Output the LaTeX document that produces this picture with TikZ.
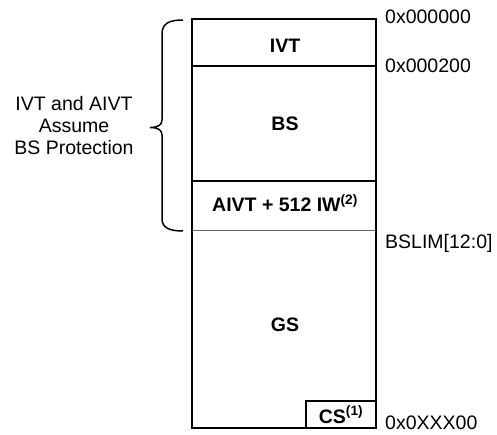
\documentclass[tikz,border=0pt]{standalone}
\usepackage{fontspec}
\setmainfont{Liberation Sans}
\begin{document}
\begin{tikzpicture}[x=1pt,y=-1pt,
  lbl/.style={font=\fontsize{19.5}{22.3}\selectfont, inner sep=0pt},
  ttl/.style={font=\fontsize{19.5}{22.3}\selectfont\bfseries, inner sep=0pt, anchor=base},
  addr/.style={lbl, anchor=base west},
  frame/.style={line width=2pt, black},
  thin/.style={line width=1pt, black!60},
  brace/.style={line width=1.5pt, black}]
\useasboundingbox (0,0) rectangle (497,435);
% memory frame
\coordinate (tl) at (192,19);
\coordinate (tr) at (376,19);
\coordinate (bl) at (192,428);
\coordinate (br) at (376,428);
\coordinate (l1) at (192,66);
\coordinate (r1) at (376,66);
\coordinate (l2) at (192,181);
\coordinate (r2) at (376,181);
\coordinate (l3) at (192,231);
\coordinate (r3) at (376,231);
\coordinate (cstl) at (306,401);
\coordinate (csbl) at (306,428);
\coordinate (cstr) at (376,401);
\draw[thin] (l3) -- (r3);
\draw[frame] (tl) -- (tr) -- (br) -- (bl) -- cycle;
\draw[frame] (l1) -- (r1);
\draw[frame] (l2) -- (r2);
\draw[frame] (csbl) -- (cstl) -- (cstr);
% region titles
\node[ttl] (ivt) at (285,53) {IVT};
\node[ttl] (bs) at (285,131) {BS};
\node[ttl] (aivt) at (285,212) {AIVT + 512 IW\textsuperscript{(2)}};
\node[ttl] (gs) at (285,331) {GS};
\node[ttl] (cs) at (341,423) {CS\textsuperscript{(1)}};
% addresses
\node[addr] (a0) at (385,24) {0x000000};
\node[addr] (a1) at (385,73) {0x000200};
\node[addr] (a2) at (385,248) {BSLIM[12:0]};
\node[addr] (a3) at (385,429) {0x0XXX00};
% brace
\coordinate (btop) at (183,20);
\coordinate (bbot) at (183,231);
\coordinate (btip) at (150,127.5);
\draw[brace] (btop) .. controls (170,20) and (162,23) .. (162,34)
  -- (162,120) .. controls (162,125) and (158,127.5) .. (btip)
  .. controls (158,127.5) and (162,130) .. (162,135)
  -- (162,219) .. controls (162,228) and (170,231) .. (bbot);
\node[lbl, align=center] (note) at (74,125.7) {IVT and AIVT\\Assume\\BS Protection};
\end{tikzpicture}
\end{document}
